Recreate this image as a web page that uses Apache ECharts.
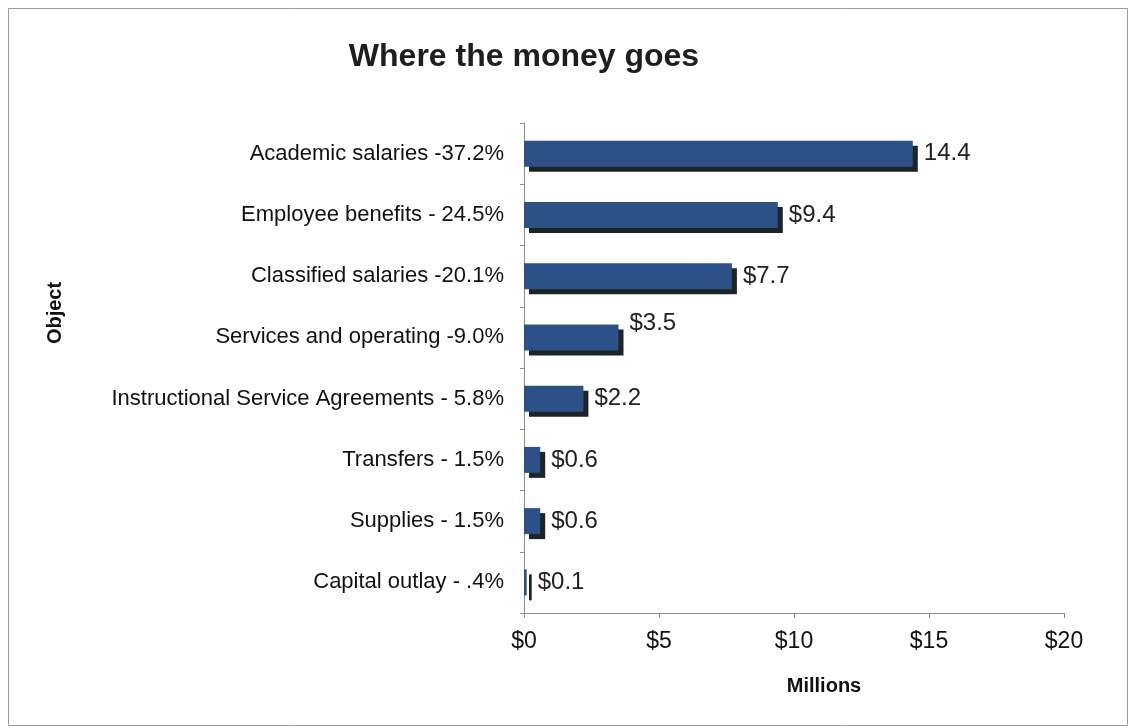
<!DOCTYPE html>
<html>
<head>
<meta charset="utf-8">
<script src="https://cdn.jsdelivr.net/npm/echarts@6/dist/echarts.min.js"></script>
<style>
html,body{margin:0;padding:0;background:#fff;}
#chart{width:1135px;height:728px;}
</style>
</head>
<body>
<div id="chart"></div>
<script>
var categories = [
  "Academic salaries -37.2%",
  "Employee benefits - 24.5%",
  "Classified salaries -20.1%",
  "Services and operating -9.0%",
  "Instructional Service Agreements - 5.8%",
  "Transfers - 1.5%",
  "Supplies - 1.5%",
  "Capital outlay - .4%"
];
var values = [14.4, 9.4, 7.7, 3.5, 2.2, 0.6, 0.6, 0.1];
var valueLabels = ["14.4", "$9.4", "$7.7", "$3.5", "$2.2", "$0.6", "$0.6", "$0.1"];
var xTicks = [0, 5, 10, 15, 20];

var font = '"Liberation Sans", Arial, sans-serif';
var chart = echarts.init(document.getElementById('chart'));

var seriesData = values.map(function (v, i) {
  var d = { value: v };
  if (i === 3) { d.label = { offset: [0, -14] }; }
  return d;
});

chart.setOption({
  animation: false,
  backgroundColor: '#ffffff',
  title: {
    text: 'Where the money goes',
    left: 519,
    top: 36,
    textAlign: 'center',
    textStyle: { fontFamily: font, fontSize: 32, fontWeight: 'bold', color: '#1e1e1e' }
  },
  grid: { left: 524, right: 71, top: 123, bottom: 115, containLabel: false },
  xAxis: {
    type: 'value',
    min: xTicks[0], max: xTicks[xTicks.length - 1], interval: 5,
    name: 'Millions',
    nameLocation: 'middle',
    nameGap: 63,
    nameTextStyle: { fontFamily: font, fontSize: 20, fontWeight: 'bold', color: '#111', padding: [0, 0, 0, 60] },
    axisLine: { show: true, lineStyle: { color: '#8a8a8a', width: 1 } },
    axisTick: { show: true, length: 5, lineStyle: { color: '#8a8a8a' } },
    splitLine: { show: false },
    axisLabel: {
      margin: 17,
      fontFamily: font, fontSize: 23, color: '#111',
      formatter: function (v) { return '$' + v; }
    }
  },
  yAxis: {
    type: 'category',
    data: categories,
    inverse: true,
    name: 'Object',
    nameLocation: 'middle',
    nameRotate: 90,
    nameGap: 459,
    nameTextStyle: { fontFamily: font, fontSize: 20, fontWeight: 'bold', color: '#111', padding: [0, 0, 0, 110] },
    axisLine: { show: true, lineStyle: { color: '#8a8a8a', width: 1 } },
    axisTick: { show: true, length: 4, alignWithLabel: false, lineStyle: { color: '#8a8a8a' } },
    axisLabel: { margin: 20, fontFamily: font, fontSize: 22, color: '#111' }
  },
  series: [{
    type: 'bar',
    data: seriesData,
    barWidth: 26,
    itemStyle: {
      color: '#2c5088',
      borderWidth: 0,
      shadowColor: '#1c2424',
      shadowOffsetX: 5,
      shadowOffsetY: 5,
      shadowBlur: 0
    },
    label: {
      show: true,
      position: 'right',
      distance: 11,
      fontFamily: font,
      fontSize: 24,
      color: '#222',
      formatter: function (p) { return valueLabels[p.dataIndex]; }
    }
  }],
  graphic: [{
    type: 'rect',
    shape: { x: 8.5, y: 8.5, width: 1119, height: 717 },
    style: { fill: 'none', stroke: '#9a9a9a', lineWidth: 1 },
    silent: true
  }]
});
</script>
</body>
</html>
